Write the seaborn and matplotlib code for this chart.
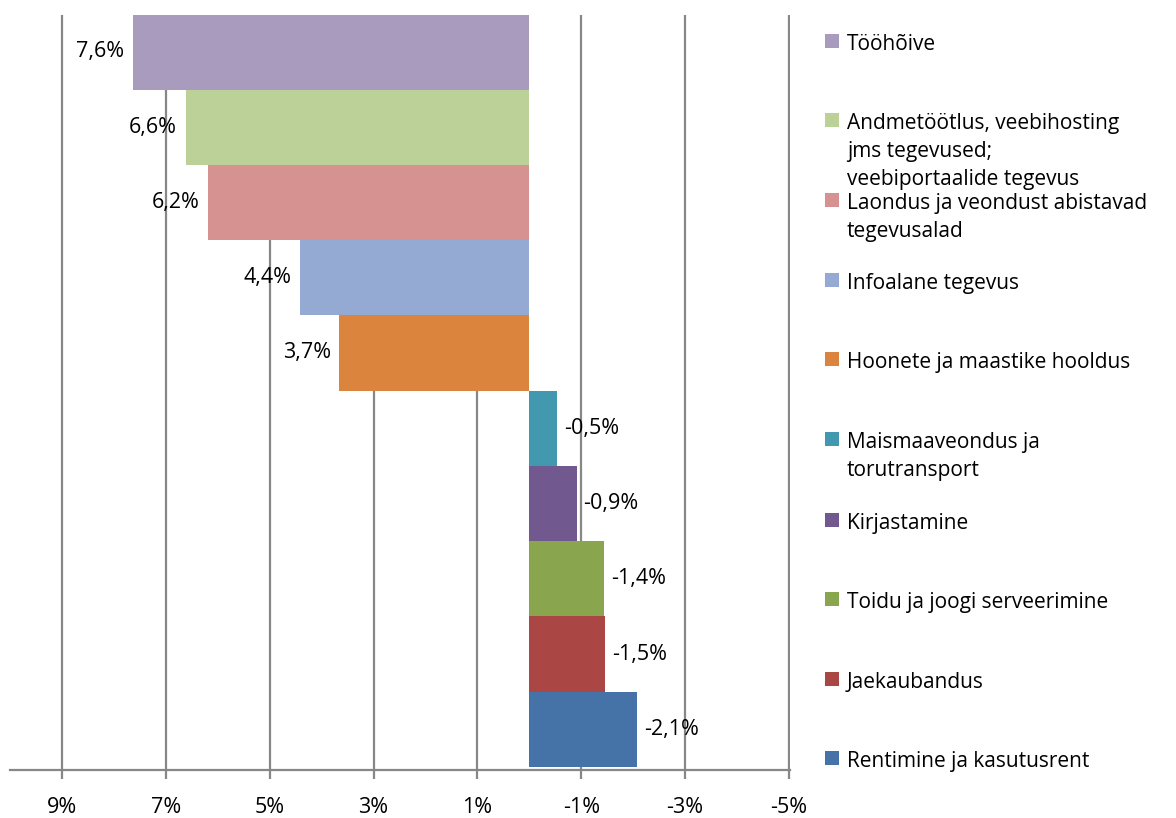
import matplotlib
matplotlib.use("Agg")
import matplotlib.pyplot as plt
from matplotlib.patches import Rectangle
from matplotlib.ticker import FixedLocator, FuncFormatter
import seaborn as sns
import pandas as pd

# data (change, %)
categories = [
    "Tööhõive",
    "Andmetöötlus, veebihosting\njms tegevused;\nveebiportaalide tegevus",
    "Laondus ja veondust abistavad\ntegevusalad",
    "Infoalane tegevus",
    "Hoonete ja maastike hooldus",
    "Maismaaveondus ja\ntorutransport",
    "Kirjastamine",
    "Toidu ja joogi serveerimine",
    "Jaekaubandus",
    "Rentimine ja kasutusrent",
]
values = [7.64, 6.62, 6.18, 4.41, 3.66, -0.54, -0.91, -1.44, -1.46, -2.07]
colors = ["#A99BBD", "#BBD197", "#D59290", "#95AAD2", "#DB843D",
          "#4198AF", "#71588F", "#89A54E", "#AA4643", "#4572A7"]
tick_values = [9, 7, 5, 3, 1, -1, -3, -5]

sns.set_style("white")
plt.rcParams["font.family"] = ["Open Sans", "DejaVu Sans"]
plt.rcParams["text.color"] = "black"

df = pd.DataFrame({"category": categories, "value": values})

fig = plt.figure(figsize=(11.76, 8.18), dpi=100)
ax = fig.add_axes([10 / 1176, 1 - 770 / 818, 780 / 1176, 755 / 818])

sns.barplot(data=df, x="value", y="category", hue="category",
            palette=colors, orient="h", width=1.0, legend=False,
            saturation=1, linewidth=0, edgecolor="none", ax=ax, zorder=2)

ax.set_xlim(10, -5.02)
ax.set_ylim(9.54, -0.49)
ax.xaxis.set_major_locator(FixedLocator(tick_values))
ax.xaxis.set_major_formatter(FuncFormatter(lambda v, p: f"{v:.0f}%"))
ax.grid(axis="x", color="#878787", linewidth=1.6, zorder=0)
ax.grid(axis="y", visible=False)
ax.set_axisbelow(True)
ax.set_yticks([])
ax.set_xlabel("")
ax.set_ylabel("")
for s in ["top", "left", "right"]:
    ax.spines[s].set_visible(False)
ax.spines["bottom"].set_color("#878787")
ax.spines["bottom"].set_linewidth(1.6)
ax.tick_params(axis="x", bottom=True, direction="out", length=6.5, width=1.6,
               color="#878787", pad=13, labelsize=15.5, labelcolor="black")

# value labels
for i, v in enumerate(values):
    txt = f"{v:.1f}%".replace(".", ",")
    if v >= 0:
        ax.annotate(txt, (v, i), xytext=(-6, 0), textcoords="offset points",
                    ha="right", va="center", fontsize=15.5, color="black")
    else:
        ax.annotate(txt, (v, i), xytext=(5, 0), textcoords="offset points",
                    ha="left", va="center", fontsize=15.5, color="black")

# legend on the right, fixed spacing like the original
W, H = 1176, 818
y_centers = [41, 120, 200, 280, 359, 439, 520, 599, 679, 758]
for name, c, yc in zip(categories, colors, y_centers):
    fig.add_artist(Rectangle((825 / W, 1 - (yc + 7) / H), 14 / W, 14 / H,
                             transform=fig.transFigure, facecolor=c,
                             edgecolor="none"))
    fig.text(847 / W, 1 - (yc - 7) / H, name, ha="left", va="top",
             fontsize=15, linespacing=1.45, color="black")

fig.savefig("out.png", dpi=100)
